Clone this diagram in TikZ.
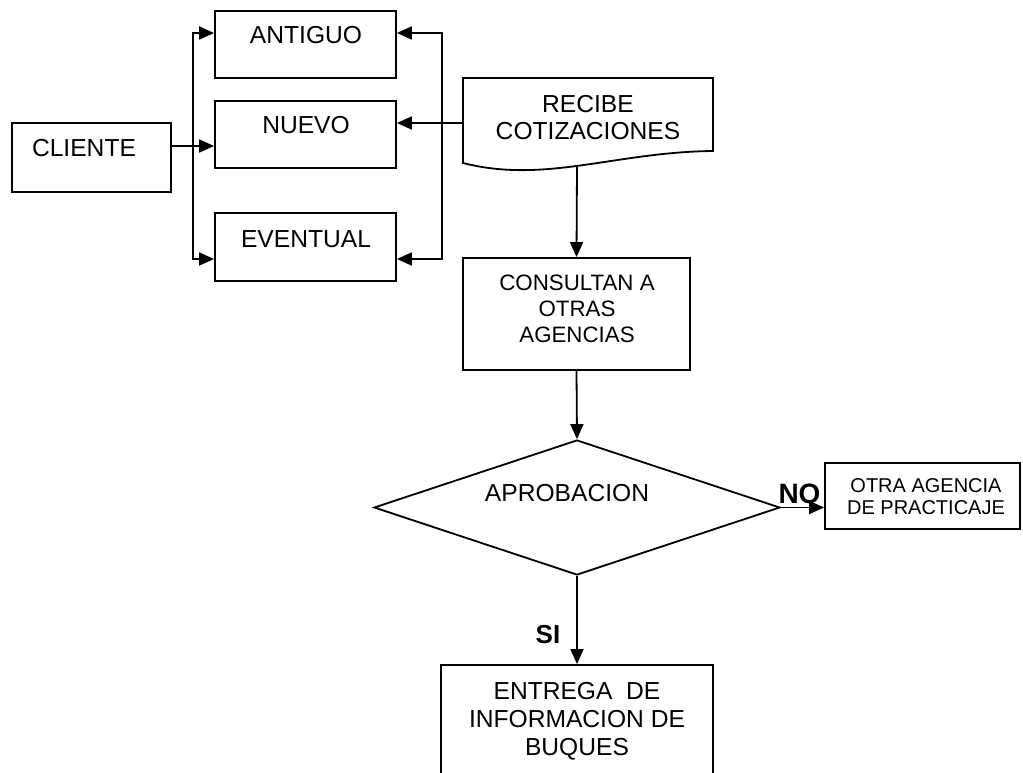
\documentclass[tikz,border=0pt]{standalone}
\usepackage{fontspec}
\setmainfont{Liberation Sans}
\usetikzlibrary{arrows.meta,shapes.geometric}
\begin{document}
\begin{tikzpicture}[x=1pt,y=-1pt,line width=1.8pt,
  box/.style={draw,rectangle,inner sep=0pt},
  anchorbox/.style={rectangle,inner sep=0pt},
  lbl/.style={anchor=base,inner sep=0pt,align=center,font=\fontsize{24.6}{28}\selectfont},
  midlbl/.style={lbl,font=\fontsize{22.3}{26}\selectfont},
  smalllbl/.style={lbl,font=\fontsize{20}{22}\selectfont},
  arr/.style={-{Triangle[length=15pt,width=13pt]}}]
\clip (0,0) rectangle (1023,773);

% boxes
\node[box,minimum width=159pt,minimum height=69pt] (cliente) at (91.5,157.5) {};
\node[box,minimum width=181pt,minimum height=67pt] (antiguo) at (305.5,44.5) {};
\node[box,minimum width=181pt,minimum height=67pt] (nuevo) at (305.5,134.5) {};
\node[box,minimum width=181pt,minimum height=68pt] (eventual) at (305.5,247) {};
\node[box,minimum width=227pt,minimum height=112pt] (consultan) at (576.5,314) {};
\node[draw,diamond,inner sep=0pt,minimum width=406pt,minimum height=135pt] (aprob) at (577,507.5) {};
\node[box,minimum width=195pt,minimum height=66pt] (otra) at (922.5,496) {};
\node[box,minimum width=272pt,minimum height=125pt] (entrega) at (577,727.5) {};

% document shape (wavy bottom edge)
\node[anchorbox,minimum width=250pt,minimum height=90pt] (recibe) at (588,123) {};
\draw (463,163) -- (463,78) -- (713,78) -- (713,151)
  .. controls (615,152) and (545,184) .. (463,163) -- cycle;
\coordinate (recibefoot) at (577,167);

% texts (base anchor sits on the last line)
\node[lbl] (tcliente) at (84,157) {CLIENTE};
\node[lbl] (tantiguo) at (306,44) {ANTIGUO};
\node[lbl] (tnuevo) at (306,134) {NUEVO};
\node[lbl] (teventual) at (306,247) {EVENTUAL};
\node[lbl] (trecibe) at (588,140) {RECIBE\\COTIZACIONES};
\node[midlbl] (tconsultan) at (577,342) {CONSULTAN A\\OTRAS\\AGENCIAS};
\node[lbl] (taprob) at (567,501) {APROBACION};
\node[smalllbl] (totra) at (926,514) {OTRA AGENCIA\\DE PRACTICAJE};
\node[lbl] (tentrega) at (577,755) {ENTREGA\ \ DE\\INFORMACION DE\\BUQUES};
\node[lbl,font=\fontsize{28}{30}\selectfont\bfseries] (tno) at (799.5,503) {NO};
\node[lbl,font=\fontsize{26}{30}\selectfont\bfseries] (tsi) at (548,643) {SI};

% rails
\coordinate (lr1) at (193,33);
\coordinate (lr2) at (193,259);
\coordinate (cj) at (193,146);
\coordinate (rr1) at (442,33);
\coordinate (rr2) at (442,259);

% connectors
\draw[arr] (cliente.east |- cj) -- (nuevo.west |- cj);
\draw[arr] (lr2) -- (lr1) -- (antiguo.west |- lr1);
\draw[arr] (lr1) -- (lr2) -- (eventual.west |- lr2);
\draw[arr] (rr2) -- (rr1) -- (antiguo.east |- rr1);
\draw[arr] (rr1) -- (rr2) -- (eventual.east |- rr2);
\draw[arr] (recibe.west) -- (nuevo.east |- recibe.west);
\draw[arr] (recibefoot) -- (consultan.north);
\draw[arr] (consultan.south) -- (aprob.north);
\draw[arr] (aprob.east) -- (otra.west |- aprob.east);
\draw[arr] (aprob.south) -- (entrega.north);
\end{tikzpicture}
\end{document}
